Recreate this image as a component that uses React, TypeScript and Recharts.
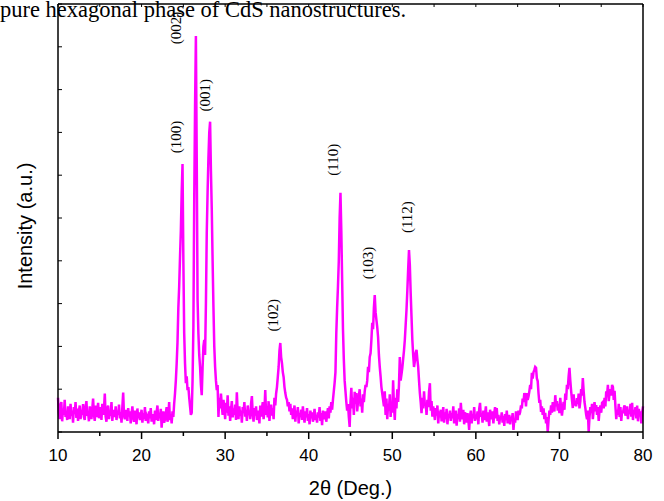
import { LineChart, Line, XAxis, YAxis, ReferenceDot } from "recharts"

// XRD pattern, intensity (a.u.) read every 0.1 deg from 10 to 80
const intensity = [
  80, 45, 30, 62, 70, 25, 55, 40, 75, 35,
  48, 28, 60, 52, 30, 66, 38, 50, 22, 58,
  42, 70, 33, 55, 26, 48, 62, 30, 52, 40,
  65, 35, 28, 58, 72, 38, 46, 25, 60, 44,
  30, 54, 78, 40, 26, 62, 35, 50, 68, 32,
  45, 58, 28, 66, 40, 52, 90, 36, 24, 55,
  62, 30, 48, 38, 70, 26, 52, 44, 35, 60,
  28, 50, 40, 64, 32, 46, 22, 58, 92, 38,
  30, 52, 44, 26, 56, 36, 48, 20, 42, 60,
  34, 24, 50, 40, 18, 55, 32, 46, 28, 38,
  52, 22, 44, 30, 58, 26, 40, 35, 20, 48,
  32, 56, 24, 42, 36, 18, 50, 28, 46, 62,
  26, 40, 34, 54, 10, 38, 48, 22, 30, 44,
  58, 24, 36, 70, 28, 42, 20, 48, 35, 66,
  90, 120, 160, 210, 290, 340, 409, 470, 560, 626,
  402, 231, 160, 114, 130, 98, 105, 80, 60, 40,
  45, 120, 245, 540, 760, 925, 640, 310, 230, 180,
  152, 110, 86, 150, 200, 215, 180, 300, 465, 560,
  640, 700, 725, 610, 520, 400, 292, 200, 152, 120,
  98, 110, 35, 80, 55, 90, 62, 40, 75, 58,
  30, 68, 45, 86, 38, 60, 26, 52, 72, 34,
  55, 40, 64, 28, 93, 46, 30, 60, 38, 50,
  22, 58, 44, 70, 36, 52, 26, 62, 40, 48,
  30, 66, 84, 42, 24, 56, 38, 60, 28, 50,
  44, 20, 62, 36, 54, 70, 30, 48, 98, 40,
  58, 34, 72, 26, 50, 64, 38, 56, 30, 80,
  62, 90, 105, 128, 152, 190, 208, 175, 161, 140,
  128, 105, 91, 80, 75, 60, 70, 48, 66, 40,
  55, 30, 46, 62, 24, 50, 38, 58, 20, 44,
  36, 52, 28, 60, 40, 22, 48, 34, 56, 26,
  42, 18, 50, 32, 46, 24, 38, 54, 28, 40,
  22, 46, 34, 58, 26, 44, 16, 50, 36, 30,
  48, 24, 40, 56, 32, 60, 45, 70, 52, 75,
  95, 115, 140, 230, 290, 340, 400, 500, 559, 470,
  355, 240, 170, 120, 95, 70, 50, 65, 35, 12,
  70, 103, 55, 80, 40, 94, 66, 91, 48, 72,
  85, 100, 60, 78, 45, 88, 70, 95, 110, 105,
  120, 152, 140, 175, 184, 215, 255, 240, 290, 320,
  280, 262, 245, 222, 180, 152, 130, 105, 90, 75,
  60, 95, 40, 78, 30, 66, 50, 88, 35, 70,
  45, 121, 62, 28, 80, 55, 100, 70, 110, 175,
  120, 135, 150, 170, 190, 215, 250, 285, 330, 380,
  425, 390, 325, 270, 215, 180, 152, 165, 185, 192,
  170, 152, 120, 91, 70, 44, 80, 55, 95, 62,
  68, 40, 75, 58, 95, 114, 50, 72, 36, 60,
  44, 28, 56, 38, 62, 20, 48, 34, 52, 25,
  40, 58, 22, 46, 30, 54, 18, 42, 36, 50,
  26, 44, 32, 60, 20, 38, 50, 15, 42, 30,
  55, 24, 68, 40, 30, 52, 18, 46, 34, 22,
  44, 28, 5, 38, 50, 20, 42, 32, 58, 26,
  40, 30, 48, 18, 54, 68, 36, 44, 22, 50,
  28, 42, 60, 24, 46, 34, 14, 52, 38, 30,
  48, 20, 44, 58, 32, 56, 26, 40, 18, 36,
  30, 46, 22, 38, 14, 42, 28, 50, 20, 34,
  40, 18, 36, 26, 44, 5, 30, 22, 48, 35,
  28, 50, 40, 47, 62, 55, 78, 70, 91, 85,
  60, 91, 75, 83, 95, 110, 100, 138, 125, 140,
  145, 152, 150, 125, 119, 90, 68, 75, 47, 60,
  40, 55, 30, 45, 20, 35, 0, 28, 50, 40,
  62, 45, 70, 58, 48, 86, 60, 72, 50, 66,
  44, 80, 56, 38, 56, 70, 52, 90, 75, 110,
  100, 130, 150, 120, 96, 75, 56, 88, 62, 70,
  60, 79, 65, 90, 55, 72, 100, 85, 126, 95,
  70, 56, 40, 30, 50, 0, 35, 58, 44, 66,
  30, 52, 70, 48, 63, 40, 58, 26, 50, 62,
  45, 68, 70, 55, 80, 60, 95, 86, 110, 72,
  90, 100, 85, 110, 105, 75, 96, 60, 30, 52,
  40, 66, 35, 58, 26, 50, 44, 56, 62, 38,
  48, 60, 30, 52, 42, 66, 36, 68, 28, 50,
  44, 58, 32, 62, 25, 54, 40, 48, 20, 46,
  60,
]

const twoTheta = intensity.map((_, i) => Math.round((10 + i * 0.1) * 10) / 10)

const xTicks = [10, 15, 20, 25, 30, 35, 40, 45, 50, 55, 60, 65, 70, 75, 80]
const yTicks = [0, 100, 200, 300, 400, 500, 600, 700, 800, 900, 1000]

// peak names and where their labels sit (angle, intensity)
const peakNames = ["(100)", "(002)", "(001)", "(102)", "(110)", "(103)", "(112)"]
const peakLabelAngle = [24.1, 24.1, 27.65, 35.7, 42.9, 47.05, 51.8]
const peakLabelHeight = [689, 944, 787, 273, 636, 395, 502]

const data = twoTheta.map((t, i) => ({ t, v: intensity[i] }))

const sans = "Arial, 'Liberation Sans', sans-serif"
const serif = "'Times New Roman', 'Liberation Serif', serif"

function BottomTick(props: any) {
  const { x, y, payload } = props
  const major = payload.value % 10 === 0
  return (
    <g>
      <line x1={x} y1={y} x2={x} y2={y + (major ? 7 : 4)} stroke="#000" strokeWidth={1.5} />
      {major && (
        <text x={x} y={y + 29} textAnchor="middle" fontSize={17} fontFamily={sans} fill="#000">
          {payload.value}
        </text>
      )}
    </g>
  )
}

function TopTick(props: any) {
  const { x, y } = props
  return <line x1={x} y1={y} x2={x} y2={y + 3} stroke="#000" strokeWidth={1} />
}

function LeftTick(props: any) {
  const { x, y } = props
  return <line x1={x} y1={y} x2={x + 4} y2={y} stroke="#000" strokeWidth={1} />
}

function RightTick(props: any) {
  const { x, y } = props
  return <line x1={x} y1={y} x2={x - 4} y2={y} stroke="#000" strokeWidth={1} />
}

function YTitle(props: any) {
  const vb = props.viewBox || { x: 0, y: 4, width: 58, height: 428 }
  const cx = vb.x + 25
  const cy = vb.y + vb.height / 2 + 8
  return (
    <text x={cx} y={cy} transform={`rotate(-90 ${cx} ${cy})`} textAnchor="middle" dominantBaseline="central"
      fontSize={20} fontFamily={sans} fill="#000">
      Intensity (a.u.)
    </text>
  )
}

function XTitle(props: any) {
  const vb = props.viewBox || { x: 58, y: 432, width: 585, height: 69 }
  return (
    <text x={vb.x + vb.width / 2} y={vb.y + 63} textAnchor="middle" fontSize={20} fontFamily={sans} fill="#000">
      2θ (Deg.)
    </text>
  )
}

function PeakLabel(text: string) {
  return (p: any) => (
    <text x={p.cx} y={p.cy} transform={`rotate(-90 ${p.cx} ${p.cy})`} textAnchor="middle"
      dominantBaseline="central" fontSize={15} fontFamily={serif} fill="#000">
      {text}
    </text>
  )
}

export default function App() {
  return (
    <div style={{ position: "absolute", left: 0, top: 0, width: 664, height: 501, background: "#fff" }}>
      <svg width={664} height={30} style={{ position: "absolute", left: 0, top: 0 }}>
        <text x={0} y={16.5} fontSize={22.5} fontFamily={serif} fill="#000">
          pure hexagonal phase of CdS nanostructures.
        </text>
      </svg>
      <div style={{ position: "absolute", left: 0, top: 0 }}>
        <LineChart width={664} height={501} data={data} margin={{ top: 0, right: 0, bottom: 0, left: 0 }}>
          <XAxis dataKey="t" type="number" domain={[10, 80]} ticks={xTicks} height={69}
            tickSize={0} tickMargin={0} tickLine={false} tick={<BottomTick />}
            axisLine={{ stroke: "#000", strokeWidth: 1.5 }} label={<XTitle />} interval={0} />
          <XAxis xAxisId="top" orientation="top" dataKey="t" type="number" domain={[10, 80]} ticks={xTicks}
            height={4} tickSize={0} tickMargin={0} tickLine={false} tick={<TopTick />}
            axisLine={{ stroke: "#000", strokeWidth: 1.5 }} interval={0} />
          <YAxis type="number" domain={[0, 1000]} ticks={yTicks} width={58} tickSize={0} tickMargin={0}
            tickLine={false} tick={<LeftTick />} axisLine={{ stroke: "#000", strokeWidth: 1.5 }}
            label={<YTitle />} interval={0} />
          <YAxis yAxisId="right" orientation="right" type="number" domain={[0, 1000]} ticks={yTicks} width={21}
            tickSize={0} tickMargin={0} tickLine={false} tick={<RightTick />}
            axisLine={{ stroke: "#000", strokeWidth: 1.5 }} interval={0} />
          <Line type="linear" dataKey="v" stroke="#ff00ff" strokeWidth={2.5} dot={false} isAnimationActive={false} />
          {peakNames.map((name, i) => (
            <ReferenceDot key={name} x={peakLabelAngle[i]} y={peakLabelHeight[i]} r={0}
              ifOverflow="visible" shape={PeakLabel(name)} />
          ))}
        </LineChart>
      </div>
    </div>
  )
}
